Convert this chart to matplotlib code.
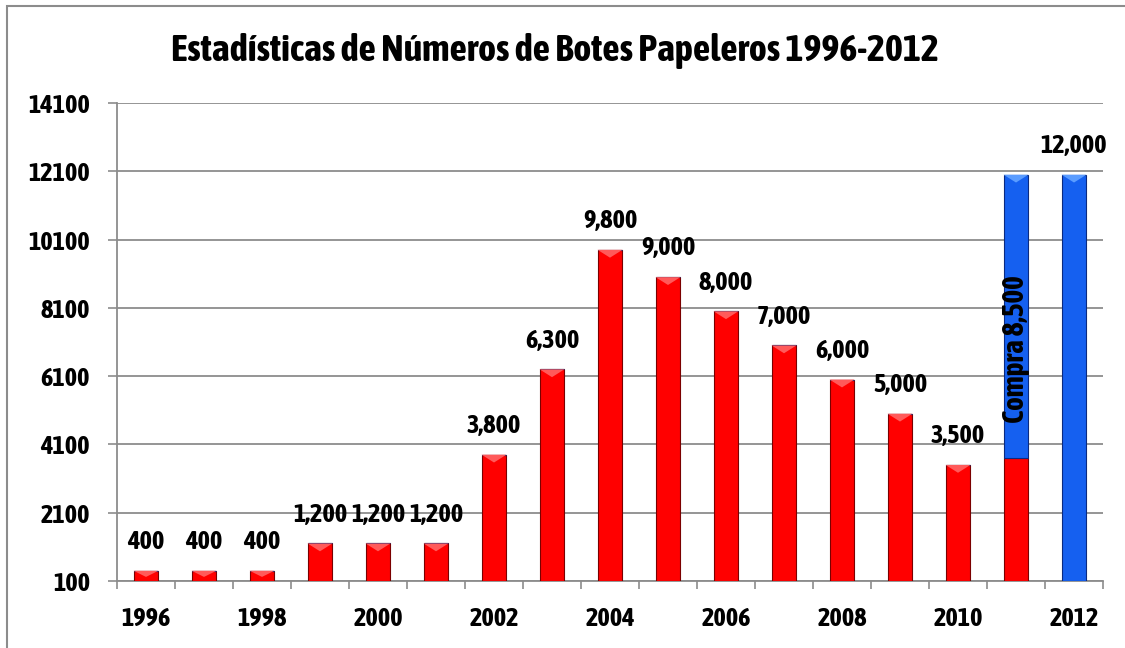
import numpy as np
import matplotlib.pyplot as plt
from matplotlib import font_manager
from matplotlib.patches import Polygon, Rectangle

# prefer a narrow bold face like the original (Arial Narrow Bold look)
bold_narrow = sorted({f.name for f in font_manager.fontManager.ttflist
                      if ("Narrow" in f.name or "Condensed" in f.name)
                      and isinstance(f.weight, int) and f.weight >= 600})
bold_narrow += sorted({f.name for f in font_manager.fontManager.ttflist
                       if f.stretch in ("condensed", "semi-condensed")
                       and isinstance(f.weight, int) and f.weight >= 600})
if "Liberation Sans Narrow" in bold_narrow:
    fam = "Liberation Sans Narrow"
elif bold_narrow:
    fam = bold_narrow[0]
else:
    fam = None
narrow = fam is not None
if not narrow:
    fam = "Liberation Sans"
plt.rcParams['font.family'] = [fam, 'DejaVu Sans']
plt.rcParams['font.weight'] = 'bold'

years = list(range(1996, 2013))
red_values = [400, 400, 400, 1200, 1200, 1200, 3800, 6300, 9800, 9000,
              8000, 7000, 6000, 5000, 3500, 3700, 0]
blue_values = [0] * 15 + [8300, 12000]
labels = ["400", "400", "400", "1,200", "1,200", "1,200", "3,800", "6,300",
          "9,800", "9,000", "8,000", "7,000", "6,000", "5,000", "3,500", "", "12,000"]
compra_label = "Compra 8,500"
yticks = list(range(100, 14101, 2000))
title = "Estadísticas de Números de Botes Papeleros 1996-2012"

base = 100
red_c = "#FF0000"
blue_c = "#1560F0"

fig = plt.figure(figsize=(11.25, 6.48), dpi=100)
fig.patches.append(Rectangle((7 / 1125, -0.1), 1.2, 1 - 6 / 648 + 0.1,
                             transform=fig.transFigure, fill=False,
                             edgecolor="#8c8c8c", lw=1.5))
ax = fig.add_axes([117 / 1125, 1 - 581 / 648, 986 / 1125, 478 / 648])

x = np.arange(len(years))
w = 0.43
red = np.array(red_values, dtype=float)
blue = np.array(blue_values, dtype=float)
red_h = np.where(red > 0, red - base, 0)
blue_h = np.where(blue > 0, np.where(red > 0, blue, blue - base), 0)

ax.bar(x, red_h, w, bottom=base, color=red_c, edgecolor="#7a0000", lw=0.8, zorder=3)
ax.bar(x, blue_h, w, bottom=base + red_h, color=blue_c, edgecolor="#0a2a80", lw=0.8, zorder=3)

# bevel highlight on top of each bar
for i in range(len(years)):
    top = base + red_h[i] + blue_h[i]
    if top <= base:
        continue
    col = "#FF5A5A" if blue_h[i] == 0 else "#5A9CFF"
    d = min(230, (top - base) * 0.6)
    tri = Polygon([(x[i] - w / 2, top), (x[i] + w / 2, top), (x[i], top - d)],
                  closed=True, facecolor=col, edgecolor="none", zorder=4)
    ax.add_patch(tri)

lab_fs = 19 if narrow else 16
for i, lab in enumerate(labels):
    if not lab:
        continue
    top = base + red_h[i] + blue_h[i]
    ax.annotate(lab, (x[i], top), xytext=(0, 12), textcoords="offset points",
                ha="center", va="bottom", fontsize=lab_fs, fontweight="bold", zorder=5)

ax.text(x[15], 6900, compra_label, rotation=90, ha="center", va="center",
        fontsize=lab_fs + 2, fontweight="bold", zorder=5)

tick_fs = 19 if narrow else 17
ax.set_xlim(-0.5, len(years) - 0.5)
ax.set_ylim(100, 14100)
ax.set_yticks(yticks)
ax.set_yticklabels([str(v) for v in yticks])
ax.set_xticks(x[::2])
ax.set_xticklabels([str(y) for y in years[::2]])
ax.set_xticks(np.arange(-0.5, len(years), 1.0), minor=True)
ax.tick_params(axis="x", which="major", length=0, pad=18, labelsize=tick_fs)
ax.tick_params(axis="x", which="minor", length=6, width=1.2, color="#8c8c8c")
ax.tick_params(axis="y", length=6.5, width=1.2, color="#8c8c8c", pad=13, labelsize=tick_fs)
for lab in ax.get_xticklabels() + ax.get_yticklabels():
    lab.set_fontweight("bold")

ax.grid(axis="y", color="#8c8c8c", lw=1.3, zorder=0)
ax.set_axisbelow(True)
for s in ["top", "right"]:
    ax.spines[s].set_visible(False)
for s in ["left", "bottom"]:
    ax.spines[s].set_color("#8c8c8c")
    ax.spines[s].set_linewidth(1.3)

fig.text(555 / 1125, 1 - 51 / 648, title, ha="center", va="center",
         fontsize=27.5 if narrow else 21.5, fontweight="bold")

fig.savefig("out.png", dpi=100)
